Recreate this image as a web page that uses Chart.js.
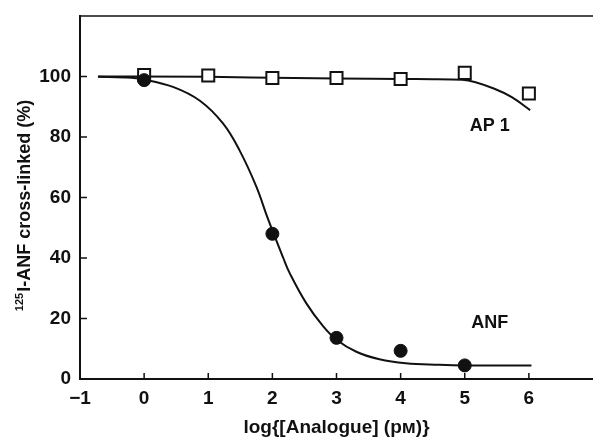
<!DOCTYPE html>
<html>
<head>
<meta charset="utf-8">
<script src="https://cdn.jsdelivr.net/npm/chart.js@4/dist/chart.umd.min.js"></script>
<style>
  html, body { margin: 0; padding: 0; background: #fff; overflow: hidden; }
  canvas { display: block; }
</style>
</head>
<body>
<canvas id="c" width="593" height="439"></canvas>
<script>
// measured points
var ap1X = [0, 1, 2, 3, 4, 5, 6];
var ap1Y = [100.5, 100.3, 99.5, 99.5, 99.2, 101.2, 94.4];
var anfX = [0, 2, 3, 4, 5];
var anfY = [98.8, 48, 13.6, 9.3, 4.5];

// fitted curves
var ap1CurveX = [-0.72, 1, 2, 3, 4, 4.5, 4.96, 5.48, 5.74, 6.02];
var ap1CurveY = [100, 99.9, 99.6, 99.3, 99.2, 99.1, 98.9, 95.8, 93.1, 88.9];
var anfCurveX = [-0.72, -0.3, 0, 0.46, 0.87, 1.23, 1.49, 1.75, 1.93, 2.17, 2.27, 2.53, 2.79, 3.0, 3.31, 3.67, 4.08, 4.6, 5, 6.04];
var anfCurveY = [99.9, 99.7, 99.0, 96.5, 92, 84.5, 75.5, 63.6, 53, 40, 35, 25, 17.5, 13, 9, 6.5, 5.2, 4.7, 4.5, 4.5];

var xTicks = [-1, 0, 1, 2, 3, 4, 5, 6];
var yTicks = [0, 20, 40, 60, 80, 100];

function pts(xs, ys) {
    return xs.map(function (x, i) { return {x: x, y: ys[i]}; });
}

var ink = '#111';
var fontFam = '"Liberation Sans", Arial, sans-serif';

var extras = {
    id: 'extras',
    afterDraw: function (chart) {
        var ctx = chart.ctx;
        var a = chart.chartArea;
        var xs = chart.scales.x, ys = chart.scales.y;
        ctx.save();
        ctx.strokeStyle = ink;
        ctx.lineWidth = 1.5;
        // top frame line
        ctx.beginPath();
        ctx.moveTo(a.left, a.top);
        ctx.lineTo(a.right, a.top);
        ctx.stroke();
        // inward ticks
        ctx.beginPath();
        xTicks.forEach(function (v) {
            var px = xs.getPixelForValue(v);
            ctx.moveTo(px, a.bottom);
            ctx.lineTo(px, a.bottom - 6);
        });
        yTicks.forEach(function (v) {
            var py = ys.getPixelForValue(v);
            ctx.moveTo(a.left, py);
            ctx.lineTo(a.left + 7, py);
        });
        ctx.stroke();

        // curve labels
        ctx.fillStyle = ink;
        ctx.font = 'bold 18px ' + fontFam;
        ctx.textAlign = 'center';
        ctx.textBaseline = 'middle';
        ctx.fillText('AP 1', xs.getPixelForValue(5.39), ys.getPixelForValue(83.5));
        ctx.fillText('ANF', xs.getPixelForValue(5.39), ys.getPixelForValue(18.4));

        // y axis title with superscript
        ctx.translate(30, 206);
        ctx.rotate(-Math.PI / 2);
        ctx.textAlign = 'left';
        ctx.textBaseline = 'alphabetic';
        var sup = '125', main = 'I-ANF cross-linked (%)';
        ctx.font = 'bold 11px ' + fontFam;
        var w1 = ctx.measureText(sup).width;
        ctx.font = 'bold 18px ' + fontFam;
        var w2 = ctx.measureText(main).width;
        var start = -(w1 + w2) / 2;
        ctx.font = 'bold 11px ' + fontFam;
        ctx.fillText(sup, start, -7);
        ctx.font = 'bold 18px ' + fontFam;
        ctx.fillText(main, start + w1 + 1, 0);
        ctx.restore();
    }
};

var ctx = document.getElementById('c').getContext('2d');
var myChart = new Chart(ctx, {
    type: 'scatter',
    data: {
        datasets: [{
            label: 'ANF',
            data: pts(anfX, anfY),
            pointStyle: 'circle',
            pointRadius: 6.5,
            backgroundColor: ink,
            borderColor: ink,
            borderWidth: 1,
            order: 0
        }, {
            label: 'AP 1',
            data: pts(ap1X, ap1Y),
            pointStyle: 'rect',
            pointRadius: 8.5,
            backgroundColor: '#fff',
            borderColor: ink,
            borderWidth: 2,
            order: 1
        }, {
            label: 'ANF fit',
            data: pts(anfCurveX, anfCurveY),
            showLine: true,
            pointRadius: 0,
            borderColor: ink,
            borderWidth: 2,
            tension: 0.4,
            order: 2
        }, {
            label: 'AP 1 fit',
            data: pts(ap1CurveX, ap1CurveY),
            showLine: true,
            pointRadius: 0,
            borderColor: ink,
            borderWidth: 2,
            cubicInterpolationMode: 'monotone',
            order: 3
        }]
    },
    options: {
        responsive: false,
        animation: false,
        devicePixelRatio: 1,
        layout: { autoPadding: false, padding: { top: 16, right: 0, left: 0, bottom: 0 } },
        plugins: {
            legend: { display: false },
            tooltip: { enabled: false }
        },
        scales: {
            x: {
                type: 'linear',
                min: -1,
                max: 7,
                afterBuildTicks: function (s) {
                    s.ticks = s.ticks.filter(function (t) { return t.value <= 6; });
                },
                afterFit: function (s) {
                    s.height = 60;
                    s.paddingLeft = 0;
                    s.paddingRight = 0;
                },
                grid: { display: false, drawTicks: false },
                border: { display: true, color: ink, width: 2 },
                ticks: {
                    stepSize: 1,
                    padding: 8,
                    color: ink,
                    font: { family: fontFam, size: 19, weight: 'bold' },
                    callback: function (v) {
                        return v < 0 ? '\u2212' + Math.abs(v) : String(v);
                    }
                },
                title: {
                    display: true,
                    text: 'log{[Analogue] (p\u043c)}',
                    color: ink,
                    padding: { top: 6, bottom: 0 },
                    font: { family: fontFam, size: 19, weight: 'bold' }
                }
            },
            y: {
                min: 0,
                max: 120,
                afterBuildTicks: function (s) {
                    s.ticks = s.ticks.filter(function (t) { return t.value <= 100; });
                },
                afterFit: function (s) {
                    s.width = 80;
                    s.paddingTop = 0;
                    s.paddingBottom = 0;
                },
                grid: { display: false, drawTicks: false },
                border: { display: true, color: ink, width: 2 },
                ticks: {
                    stepSize: 20,
                    padding: 9,
                    color: ink,
                    font: { family: fontFam, size: 19, weight: 'bold' }
                }
            }
        }
    },
    plugins: [extras]
});
</script>
</body>
</html>
